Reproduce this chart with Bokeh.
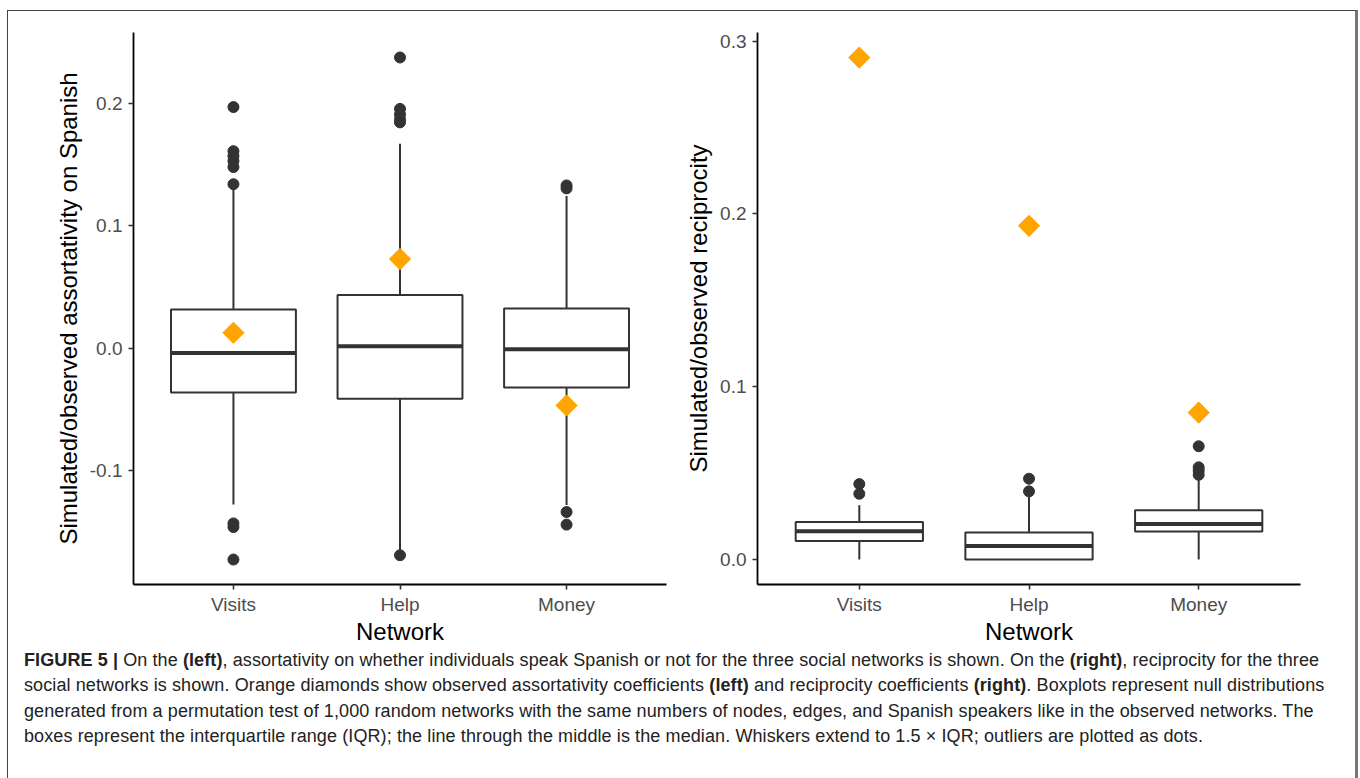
from bokeh.plotting import figure
from bokeh.models import (ColumnDataSource, FixedTicker, PrintfTickFormatter,
                          Range1d, FactorRange, Div)
from bokeh.transform import dodge
from bokeh.layouts import row, column
from bokeh.embed import file_html
from bokeh.resources import INLINE
import math

# ---------------- data ----------------
networks = ["Visits", "Help", "Money"]

# left panel: assortativity on Spanish (null distribution boxplots)
assort_q1 = [-0.0361, -0.0412, -0.0320]
assort_med = [-0.0038, 0.0017, -0.0007]
assort_q3 = [0.0316, 0.0436, 0.0326]
assort_lo = [-0.1275, -0.1650, -0.1280]
assort_hi = [0.1300, 0.1670, 0.1244]
assort_obs = [0.0127, 0.0729, -0.0467]
assort_out_net = ["Visits"] * 9 + ["Help"] * 6 + ["Money"] * 4
assort_out_val = [0.197, 0.161, 0.157, 0.153, 0.148, 0.134, -0.143, -0.146, -0.1725,
                  0.2375, 0.1955, 0.191, 0.187, 0.1845, -0.169,
                  0.133, 0.1306, -0.1337, -0.144]

# right panel: reciprocity
recip_q1 = [0.0107, 0.0000, 0.0161]
recip_med = [0.0163, 0.0078, 0.0205]
recip_q3 = [0.0217, 0.0156, 0.0285]
recip_lo = [0.0000, 0.0000, 0.0000]
recip_hi = [0.0314, 0.0363, 0.0460]
recip_obs = [0.2905, 0.1931, 0.0850]
recip_out_net = ["Visits"] * 2 + ["Help"] * 2 + ["Money"] * 4
recip_out_val = [0.0436, 0.0380, 0.0467, 0.0394, 0.0655, 0.0533, 0.0514, 0.0490]

assort_ticks = [-0.1, 0.0, 0.1, 0.2]
recip_ticks = [0.0, 0.1, 0.2, 0.3]

x_title = "Network"
left_title = "Simulated/observed assortativity on Spanish"
right_title = "Simulated/observed reciprocity"

caption_lines = [
    "<b>FIGURE 5 |</b> On the <b>(left)</b>, assortativity on whether individuals speak Spanish or not for the three social networks is shown. On the <b>(right)</b>, reciprocity for the three",
    "social networks is shown. Orange diamonds show observed assortativity coefficients <b>(left)</b> and reciprocity coefficients <b>(right)</b>. Boxplots represent null distributions",
    "generated from a permutation test of 1,000 random networks with the same numbers of nodes, edges, and Spanish speakers like in the observed networks. The",
    "boxes represent the interquartile range (IQR); the line through the middle is the median. Whiskers extend to 1.5 \u00d7 IQR; outliers are plotted as dots.",
]

DARK = "#333333"
ORANGE = "#FFA500"
FONT = "Liberation Sans"


def make_panel(width, border_left, border_right, y_start, y_end, ticks, ytitle,
               q1, med, q3, lo, hi, obs, out_net, out_val):
    # ggplot-style discrete expansion: 0.6 category units beyond the outer centres
    xr = FactorRange(*networks, factor_padding=0.0, range_padding=0.2 / 3.0,
                     range_padding_units="percent")
    p = figure(width=width, height=637, x_range=xr,
               y_range=Range1d(y_start, y_end), output_backend="svg",
               toolbar_location=None, min_border_left=border_left,
               min_border_right=border_right, min_border_top=21, min_border_bottom=64)
    p.grid.visible = False
    p.outline_line_color = None
    p.background_fill_color = "white"

    src = ColumnDataSource(dict(net=networks, q1=q1, med=med, q3=q3, lo=lo, hi=hi, obs=obs))
    # whiskers
    p.segment(x0="net", y0="q3", x1="net", y1="hi", source=src, line_color=DARK, line_width=2)
    p.segment(x0="net", y0="q1", x1="net", y1="lo", source=src, line_color=DARK, line_width=2)
    # boxes
    p.vbar(x="net", top="q3", bottom="q1", width=0.75, source=src, fill_color="white",
           line_color=DARK, line_width=2)
    # medians
    p.segment(x0=dodge("net", -0.375, range=xr), x1=dodge("net", 0.375, range=xr),
              y0="med", y1="med", source=src, line_color=DARK, line_width=4)
    # outliers
    osrc = ColumnDataSource(dict(net=out_net, val=out_val))
    p.scatter(x="net", y="val", source=osrc, marker="circle", size=11,
              fill_color=DARK, line_color=DARK)
    # observed values
    p.scatter(x="net", y="obs", source=src, marker="square", angle=math.pi / 4, size=15,
              fill_color=ORANGE, line_color=ORANGE)

    for ax in (p.xaxis[0], p.yaxis[0]):
        ax.axis_line_color = "black"
        ax.axis_line_width = 1.8
        ax.major_tick_line_color = DARK
        ax.major_tick_line_width = 1.6
        ax.major_tick_in = 0
        ax.major_tick_out = 5
        ax.minor_tick_line_color = None
        ax.major_label_text_font = FONT
        ax.major_label_text_font_size = "19px"
        ax.major_label_text_color = "#4D4D4D"
        ax.major_label_standoff = 6
        ax.axis_label_text_font = FONT
        ax.axis_label_text_font_size = "24px"
        ax.axis_label_text_font_style = "normal"
        ax.axis_label_text_color = "black"
    p.xaxis.major_label_standoff = 4
    p.xaxis.axis_label = x_title
    p.xaxis.axis_label_standoff = 0
    p.yaxis.axis_label = ytitle
    p.yaxis.axis_label_standoff = 5
    p.yaxis.ticker = FixedTicker(ticks=ticks)
    p.yaxis.formatter = PrintfTickFormatter(format="%.1f")
    return p


p1 = make_panel(672, 125, 14, -0.1929, 0.2579, assort_ticks, left_title,
                assort_q1, assort_med, assort_q3, assort_lo, assort_hi, assort_obs,
                assort_out_net, assort_out_val)
p2 = make_panel(675, 77, 55, -0.01453, 0.30503, recip_ticks, right_title,
                recip_q1, recip_med, recip_q3, recip_lo, recip_hi, recip_obs,
                recip_out_net, recip_out_val)

cap = Div(text="<br>".join(caption_lines), width=1345, height=130, margin=(0, 0, 0, 0),
          styles={"font-family": "'Liberation Sans', sans-serif",
                  "font-size": "18px", "line-height": "25.3px", "color": "#222222",
                  "letter-spacing": "0.1px",
                  "white-space": "nowrap", "padding-left": "16px"})

page = column(row(p1, p2), cap,
              styles={"border-top": "1.5px solid #444444", "border-left": "1.5px solid #444444",
                      "border-right": "3px solid #777777", "background": "white"},
              margin=(10, 0, 0, 7))

open("out.html", "w").write(file_html(page, INLINE))
